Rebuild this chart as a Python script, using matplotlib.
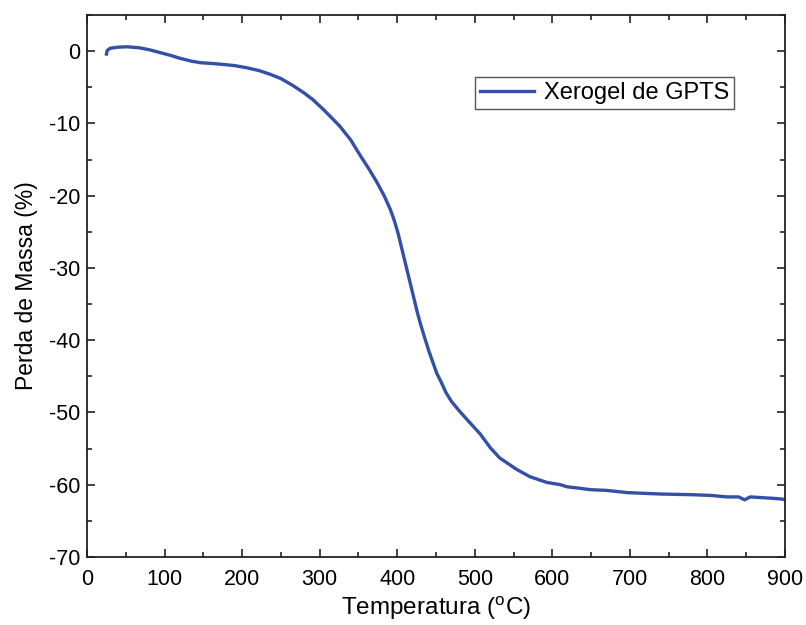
import matplotlib
matplotlib.use("Agg")
import matplotlib.pyplot as plt
from matplotlib.ticker import MultipleLocator

plt.rcParams["font.family"] = ["Liberation Sans", "DejaVu Sans"]
plt.rcParams["axes.unicode_minus"] = False
plt.rcParams["mathtext.fontset"] = "custom"
plt.rcParams["mathtext.rm"] = "Liberation Sans"

# TGA curve
temperature = [25, 26, 30, 40, 52, 68, 80, 94, 108, 120, 135, 146, 160, 171, 190,
               206, 222, 236, 250, 266, 280, 291, 305, 316, 326, 340, 352, 364,
               374, 383, 391, 396, 401, 406, 411, 416, 421, 425, 430, 436, 441,
               446, 451, 457, 463, 470, 480, 490, 507, 520, 532, 543, 554, 571,
               593, 610, 619, 635, 649, 670, 696, 717, 739, 760, 782, 805, 825,
               840, 848, 855, 870, 885, 896, 900]
mass_loss = [-0.4, 0.1, 0.4, 0.55, 0.6, 0.45, 0.2, -0.2, -0.6, -1.0, -1.4, -1.6,
             -1.7, -1.8, -2.0, -2.3, -2.7, -3.2, -3.8, -4.8, -5.8, -6.7, -8.1,
             -9.3, -10.4, -12.3, -14.4, -16.4, -18.2, -20.0, -21.9, -23.4,
             -25.2, -27.4, -29.6, -31.8, -34.0, -35.8, -37.8, -39.9, -41.6,
             -43.1, -44.6, -45.9, -47.3, -48.5, -49.8, -51.0, -53.0, -54.9,
             -56.3, -57.1, -57.9, -58.9, -59.7, -60.0, -60.3, -60.5, -60.7,
             -60.8, -61.1, -61.2, -61.3, -61.35, -61.4, -61.5, -61.7, -61.7,
             -62.1, -61.7, -61.8, -61.9, -62.0, -62.1]

x_ticks = [0, 100, 200, 300, 400, 500, 600, 700, 800, 900]
y_ticks = [0, -10, -20, -30, -40, -50, -60, -70]

fig = plt.figure(figsize=(8.06, 6.25), dpi=100)
ax = fig.add_axes([0.108, 0.109, 0.866, 0.867])

ax.plot(temperature, mass_loss, color="#3350a8", lw=2.4, label="Xerogel de GPTS")

ax.set_xlim(0, 900)
ax.set_ylim(-70, 5)
ax.set_xticks(x_ticks)
ax.set_yticks(y_ticks)
ax.xaxis.set_minor_locator(MultipleLocator(50))
ax.yaxis.set_minor_locator(MultipleLocator(5))
ax.tick_params(which="both", direction="in", top=True, right=True,
               labelsize=15.5, width=1.2, color="#222222")
ax.tick_params(axis="x", pad=9)
ax.tick_params(axis="y", pad=5)
ax.tick_params(which="major", length=6)
ax.tick_params(which="minor", length=3.5)
for s in ax.spines.values():
    s.set_linewidth(1.3)
    s.set_color("#222222")

ax.set_xlabel(r"Temperatura ($^{\rm o}$C)", fontsize=17.5, labelpad=3)
ax.set_ylabel("Perda de Massa (%)", fontsize=16.5, labelpad=8)

leg = ax.legend(loc="upper left", bbox_to_anchor=(0.556, 0.885), fontsize=17,
                fancybox=False, framealpha=1, edgecolor="#555555",
                handlelength=2.3, borderpad=0.2, handletextpad=0.4,
                borderaxespad=0)
leg.get_frame().set_linewidth(1.0)

fig.savefig("out.png", dpi=100)
